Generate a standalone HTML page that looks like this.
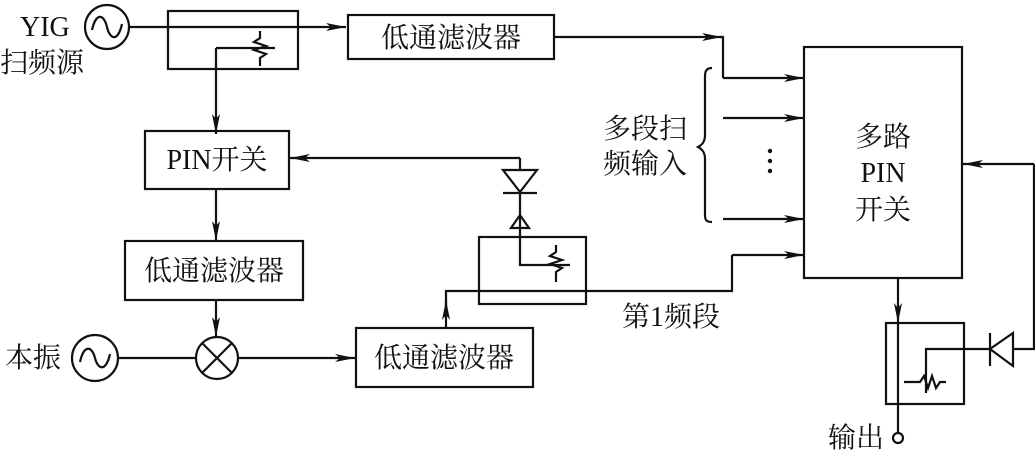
<!DOCTYPE html>
<html><head><meta charset="utf-8"><style>
html,body{margin:0;padding:0;background:#fff}
svg{display:block}
text{font-family:"Liberation Serif","Noto Serif CJK SC","Noto Sans CJK SC",serif;font-size:28px;fill:#111}
</style></head><body>
<svg width="1035" height="451" viewBox="0 0 1035 451" xmlns="http://www.w3.org/2000/svg">
<defs>
<marker id="a" viewBox="0 0 20 10" refX="20" refY="5" markerWidth="20" markerHeight="10" markerUnits="userSpaceOnUse" orient="auto">
<path d="M0,1 L20,5 L0,9 L5,5 Z" fill="#111"/></marker>
</defs>
<g stroke="#111" stroke-width="2.2" fill="none">
<!-- YIG source -->
<circle cx="107" cy="27" r="22"/>
<path d="M92,30 C96,12 104,14 107,27 C110,40 118,42 122,24"/>
<line x1="129" y1="27" x2="346" y2="27" marker-end="url(#a)"/>
<rect x="168" y="11" width="130" height="58"/>
<path d="M216,48 L275,48"/>
<path d="M260,31 L260,38 L254,42 L266,46 L254,50 L266,54 L260,58 L260,66"/>
<line x1="216" y1="48" x2="216" y2="134" marker-end="url(#a)"/>
<!-- LPF1 -->
<rect x="348" y="15" width="206" height="44"/>
<path d="M554,37 L723,37 L723,78" /><line x1="720" y1="37" x2="722" y2="37" marker-end="url(#a)"/>
<line x1="723" y1="78" x2="804" y2="78" marker-end="url(#a)"/>
<line x1="723" y1="118" x2="804" y2="118" marker-end="url(#a)"/>
<line x1="723" y1="219" x2="804" y2="219" marker-end="url(#a)"/>
<!-- brace -->
<path d="M712,68 C704,68 705,74 705,82 L705,135 C705,142 702,145 698,147 C702,149 705,152 705,159 L705,210 C705,218 704,222 712,222"/>
<!-- multi PIN -->
<rect x="804" y="47" width="158" height="231"/>
<!-- PIN switch -->
<rect x="145" y="131" width="144" height="58"/>
<line x1="520" y1="158" x2="290" y2="158" marker-end="url(#a)"/>
<path d="M520,158 L520,170"/>
<path d="M503,170 L537,170 L520,192 Z"/>
<line x1="503" y1="193" x2="537" y2="193"/>
<path d="M520,193 L520,265 L570,265"/>
<path d="M511,228 L529,228 L520,215 Z"/>
<path d="M556,245 L556,252 L550,256 L562,260 L550,264 L562,268 L556,272 L556,282"/>
<rect x="479" y="237" width="107" height="67"/>
<path d="M446,328 L446,291 L732,291 L732,255"/>
<line x1="446" y1="310" x2="446" y2="300" marker-end="url(#a)"/>
<line x1="732" y1="255" x2="804" y2="255" marker-end="url(#a)"/>
<line x1="216" y1="189" x2="216" y2="241" marker-end="url(#a)"/>
<!-- LPF2 -->
<rect x="125" y="241" width="178" height="59"/>
<line x1="216" y1="300" x2="216" y2="337" marker-end="url(#a)"/>
<!-- mixer -->
<circle cx="217" cy="358" r="21"/>
<path d="M202,343 L232,373 M232,343 L202,373"/>
<!-- LO -->
<circle cx="95" cy="358" r="23"/>
<path d="M80,362 C84,344 92,346 95,358 C98,370 106,372 110,354"/>
<line x1="118" y1="358" x2="196" y2="358"/>
<line x1="238" y1="358" x2="355" y2="358" marker-end="url(#a)"/>
<rect x="356" y="328" width="177" height="59"/>
<!-- output -->
<line x1="898" y1="278" x2="898" y2="323" marker-end="url(#a)"/>
<line x1="898" y1="323" x2="898" y2="433"/>
<circle cx="898" cy="438" r="5"/>
<rect x="886" y="323" width="78" height="81"/>
<path d="M904,382 L920,382 L924,376 L928,388 L932,376 L936,388 L940,382 L946,382"/>
<path d="M926,393 L926,349 L990,349"/>
<path d="M1013,333 L1013,366 L990,349 Z"/>
<line x1="990" y1="333" x2="990" y2="366"/>
<path d="M1013,349 L1034,349 L1034,164"/>
<line x1="1034" y1="164" x2="963" y2="164" marker-end="url(#a)"/>
</g>
<g fill="#111"><circle cx="770" cy="151" r="2.2"/><circle cx="770" cy="161" r="2.2"/><circle cx="770" cy="171" r="2.2"/></g>
<text x="20" y="36">YIG</text>
<text x="0" y="72">扫频源</text>
<text x="451" y="47" text-anchor="middle">低通滤波器</text>
<text x="217" y="169" text-anchor="middle">PIN开关</text>
<text x="214" y="280" text-anchor="middle">低通滤波器</text>
<text x="444" y="367" text-anchor="middle">低通滤波器</text>
<text x="5" y="367">本振</text>
<text x="603" y="138">多段扫</text>
<text x="603" y="173">频输入</text>
<text x="883" y="146" text-anchor="middle">多路</text>
<text x="883" y="182" text-anchor="middle">PIN</text>
<text x="883" y="219" text-anchor="middle">开关</text>
<text x="622" y="326">第1频段</text>
<text x="828" y="447">输出</text>
</svg>
</body></html>
